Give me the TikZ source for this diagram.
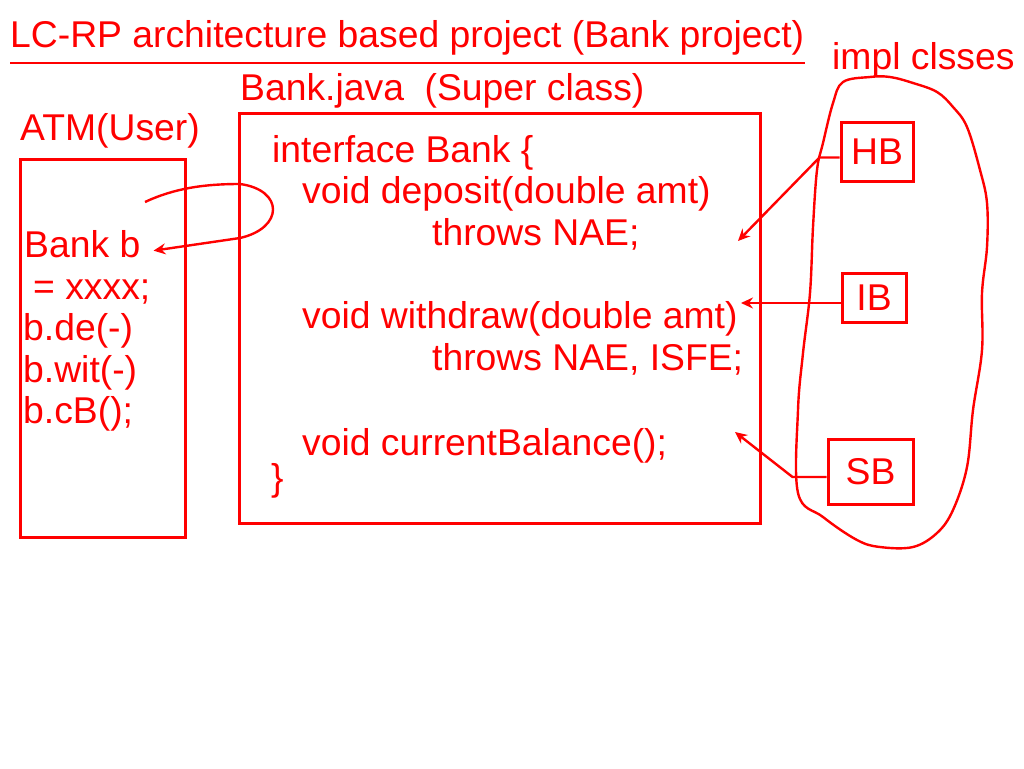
\documentclass[tikz,border=0pt]{standalone}
\usepackage{fontspec}
\setmainfont{Liberation Sans}
\usepackage{xcolor}
\usepackage{tikz}
\usetikzlibrary{arrows.meta, positioning}
\definecolor{penred}{HTML}{FF0000}

\begin{document}
\begin{tikzpicture}[x=1pt, y=-1pt,
  txt/.style={font=\fontsize{37.3}{44}\selectfont, text=penred, inner sep=0pt, anchor=base west},
  frame/.style={draw=penred, line width=3pt},
  implbox/.style={draw=penred, line width=3pt, font=\fontsize{37.3}{44}\selectfont, text=penred, inner sep=0pt},
  pen/.style={draw=penred, line width=2.4pt},
  pointer/.style={pen, -{Stealth[length=12pt, width=11pt, inset=4pt]}}
]

  \useasboundingbox (0,0) rectangle (1024,768);

  %% heading
  \node[txt] (title) at (10,48) {LC-RP architecture based project (Bank project)};
  \draw[pen] (10,63) -- (805,63);
  \node[txt] (impl) at (832,69) {impl clsses};
  \node[txt] (superlbl) at (240,100) {Bank.java\ \ (Super class)};
  \node[txt] (atmlbl) at (20,140) {ATM(User)};

  %% ATM client
  \node[frame, minimum width=165pt, minimum height=378pt] (atmbox) at (103,348) {};
  \node[txt] (bankb) at (24,257) {Bank b};
  \node[txt] (assign) at (33,299) {= xxxx;};
  \node[txt] (callde) at (23,340) {b.de(-)};
  \node[txt] (callwit) at (23,382) {b.wit(-)};
  \node[txt] (callcb) at (23,423) {b.cB();};

  %% Bank interface
  \node[frame, minimum width=521pt, minimum height=410pt] (bankbox) at (499.5,318) {};
  \node[txt] (ifline) at (272,162) {interface Bank \{};
  \node[txt] (depline) at (302,203) {void deposit(double amt)};
  \node[txt] (depthrow) at (432,245) {throws NAE;};
  \node[txt] (witline) at (302,328) {void withdraw(double amt)};
  \node[txt] (witthrow) at (432,370) {throws NAE, ISFE;};
  \node[txt] (cbline) at (302,455) {void currentBalance();};
  \node[txt] (closebr) at (271,490) {\}};

  %% reference loop
  \coordinate (loopstart) at (145,202);
  \draw[pointer] (loopstart) .. controls (175,188) and (205,184) .. (240,184)
    .. controls (284,190) and (284,228) .. (240,238)
    -- ([shift={(13,7)}]bankb.east);

  %% impl classes
  \node[implbox, minimum width=72pt, minimum height=59pt] (hb) at (877,151.5) {HB};
  \node[implbox, minimum width=64pt, minimum height=49pt] (ib) at (874,297.5) {IB};
  \node[implbox, minimum width=85pt, minimum height=65pt] (sb) at (870.5,471.5) {SB};

  \draw[pen] plot[smooth cycle, tension=0.6] coordinates {
    (843,82) (870,77) (890,77) (913,83) (937,92) (953,107) (967,127)
    (980,170) (987,203) (987,247) (982,293) (982,350) (973,410)
    (967,467) (953,510) (937,533) (913,547) (880,547) (857,540)
    (823,517) (798,493) (798,410) (803,353) (810,293) (813,227)
    (817,170) (823,143) (833,103)};

  \coordinate (depositend) at (738,241);
  \coordinate (withdrawend) at (741,303);
  \coordinate (balanceend) at (735,432);
  \draw[pointer] ([yshift=-6pt]hb.west) -- ++(-20,0) -- (depositend);
  \draw[pointer] ([yshift=-5.5pt]ib.west) -- (withdrawend);
  \draw[pointer] ([yshift=-5.5pt]sb.west) -- ++(-34,0) -- (balanceend);

\end{tikzpicture}
\end{document}
